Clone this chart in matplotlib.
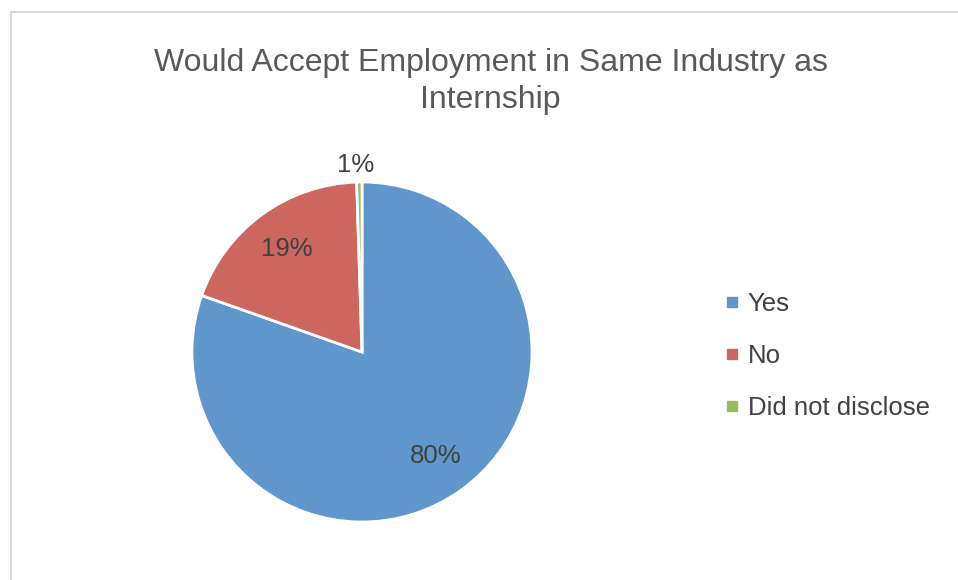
import matplotlib
matplotlib.use("Agg")
import matplotlib.pyplot as plt
from matplotlib.lines import Line2D

plt.rcParams['font.family'] = ['Liberation Sans', 'DejaVu Sans']

categories = ["Yes", "No", "Did not disclose"]
values = [80.4, 19.1, 0.5]
colors = ["#5F96CB", "#CD665F", "#9BBB59"]
title = "Would Accept Employment in Same Industry as\nInternship"

fig = plt.figure(figsize=(9.58, 5.8), dpi=100)
W, H = 958, 580

# chart frame lines
fig.add_artist(Line2D([10.5 / W, 10.5 / W], [0, 1 - 11.5 / H], color="#D9D9D9", lw=1.5))
fig.add_artist(Line2D([10.5 / W, 1], [1 - 11.5 / H, 1 - 11.5 / H], color="#D9D9D9", lw=1.5))

cx, cy, r = 362, 352, 170
ax = fig.add_axes([(cx - r) / W, (H - cy - r) / H, 2 * r / W, 2 * r / H])

wedges, texts, autotexts = ax.pie(
    values, colors=colors, startangle=90, counterclock=False,
    autopct=lambda p: f"{int(p + 0.5)}%", pctdistance=0.75,
    wedgeprops=dict(edgecolor="white", linewidth=2),
    textprops=dict(fontsize=18.5, color="#404040"))
ax.set_xlim(-1, 1)
ax.set_ylim(-1, 1)
ax.set_aspect("equal")

# small slice label sits outside the pie
x, y = autotexts[2].get_position()
autotexts[2].set_position((x * 1.11 / 0.75 - 0.02, y * 1.11 / 0.75 - 0.01))

fig.text(490.5 / W, 1 - 81.5 / H, title, ha="center", va="center",
         fontsize=23, color="#595959", linespacing=1.3)

handles = [Line2D([], [], marker="s", linestyle="none", markersize=7,
                  markerfacecolor=c, markeredgecolor=c) for c in colors]
fig.legend(handles, categories, loc="center left",
           bbox_to_anchor=(726 / W, 1 - 356 / H), frameon=False,
           fontsize=18.5, labelcolor="#404040", handlelength=0.45,
           handletextpad=0.4, labelspacing=1.09, borderpad=0, borderaxespad=0)

fig.savefig("out.png", dpi=100, facecolor="white")
